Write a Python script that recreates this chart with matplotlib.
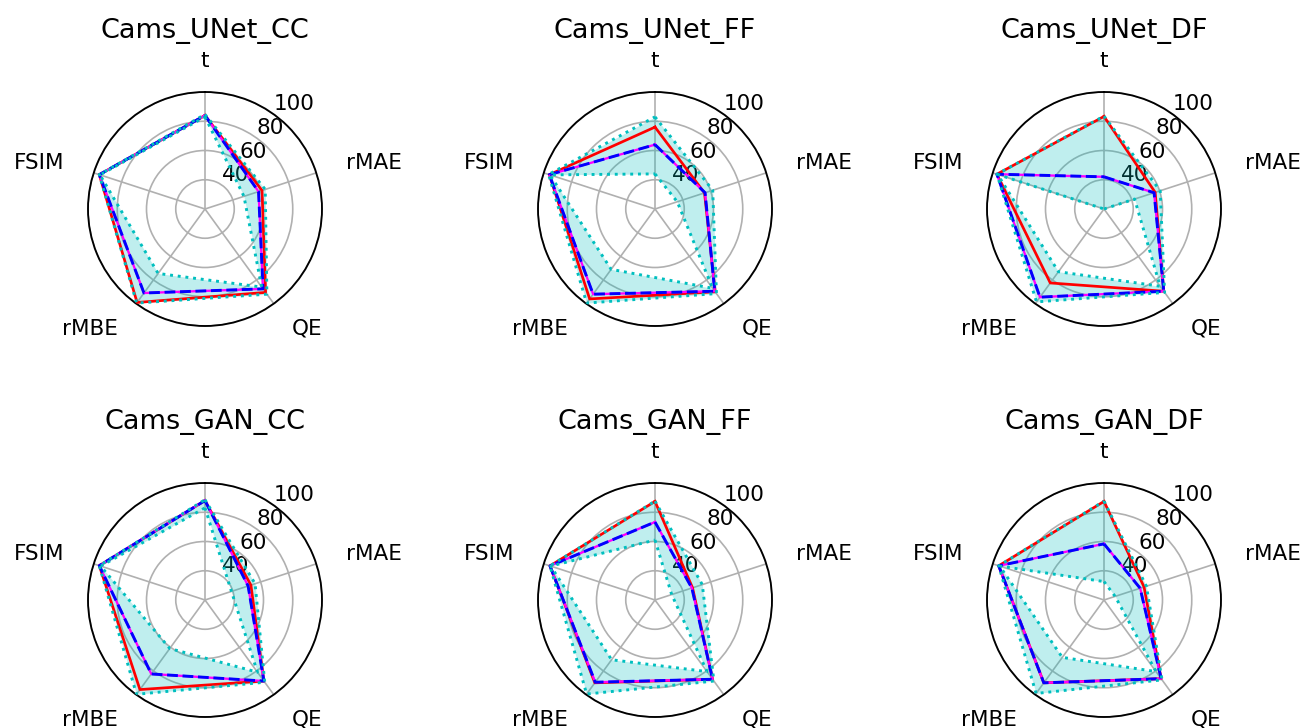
import numpy as np
import matplotlib
matplotlib.use("Agg")
import matplotlib.pyplot as plt

metrics = ["t", "rMAE", "QE", "rMBE", "FSIM"]
titles = ["Cams_UNet_CC", "Cams_UNet_FF", "Cams_UNet_DF",
          "Cams_GAN_CC", "Cams_GAN_FF", "Cams_GAN_DF"]

red_vals = [
    [84.0, 61.0, 90.5, 99.0, 96.0],
    [76.0, 55.6, 90.0, 96.0, 96.0],
    [83.3, 56.8, 89.5, 82.5, 97.0],
    [88.0, 53.0, 88.5, 95.7, 96.0],
    [87.4, 47.0, 87.0, 90.0, 95.5],
    [87.4, 48.8, 86.5, 90.0, 95.7],
]
blue_vals = [
    [84.0, 58.5, 87.5, 91.0, 96.0],
    [64.0, 56.0, 89.5, 92.0, 96.0],
    [42.0, 56.0, 89.5, 94.5, 97.0],
    [88.0, 51.0, 88.5, 82.5, 96.0],
    [73.3, 46.5, 87.0, 89.5, 95.5],
    [58.4, 46.0, 86.5, 90.0, 95.7],
]
max_vals = [
    [84.7, 63.3, 92.0, 99.5, 96.0],
    [83.0, 61.5, 91.5, 99.5, 96.5],
    [83.5, 60.4, 90.5, 98.5, 97.0],
    [88.6, 56.0, 89.5, 99.7, 96.0],
    [87.6, 54.0, 88.5, 99.5, 95.5],
    [87.6, 50.5, 87.5, 99.0, 95.7],
]
min_vals = [
    [83.0, 48.0, 86.0, 74.5, 95.5],
    [44.0, 36.0, 87.0, 71.0, 95.5],
    [20.0, 42.0, 85.3, 73.0, 96.5],
    [83.0, 39.0, 81.0, 61.0, 95.0],
    [61.0, 32.0, 80.5, 70.5, 95.0],
    [32.6, 28.0, 80.5, 68.5, 95.0],
]
r_ticks = [40, 60, 80, 100]

DPI = 150
fig = plt.figure(figsize=(1304 / DPI, 728 / DPI), dpi=DPI)

n = len(metrics)
angles = np.linspace(0, 2 * np.pi, n, endpoint=False)
ang_c = np.concatenate([angles, angles[:1]])

def closed(v):
    v = list(v)
    return np.array(v + v[:1])

W = 234 / 1304
H = 234 / 728
lefts = [88 / 1304, 538 / 1304, 987 / 1304]
bottoms = [402 / 728, 11 / 728]

for i, title in enumerate(titles):
    row, col = divmod(i, 3)
    ax = fig.add_axes([lefts[col], bottoms[row], W, H], projection="polar")
    ax.set_theta_offset(np.pi / 2)
    ax.set_theta_direction(-1)
    ax.set_ylim(20, 100)
    ax.set_yticks(r_ticks)
    ax.set_yticklabels([str(t) for t in r_ticks])
    ax.set_rlabel_position(36)
    ax.set_xticks(angles)
    ax.set_xticklabels(metrics)
    ax.tick_params(axis="x", pad=4.5, labelsize=10.3)
    ax.tick_params(axis="y", labelsize=10.3)
    for lab, a in zip(ax.get_xticklabels(), angles):
        deg = np.degrees(a) % 360
        if deg == 0 or deg == 180:
            lab.set_horizontalalignment("center")
        elif deg < 180:
            lab.set_horizontalalignment("left")
        else:
            lab.set_horizontalalignment("right")
    ax.grid(True, color="#b0b0b0", linewidth=0.8)
    ax.spines["polar"].set_linewidth(0.9)

    lo = closed(min_vals[i])
    hi = closed(max_vals[i])
    ax.fill_between(ang_c, lo, hi, color="c", alpha=0.25, linewidth=0, zorder=2)
    ax.plot(ang_c, closed(red_vals[i]), color="red", linewidth=1.3, zorder=3)
    ax.plot(ang_c, closed(blue_vals[i]), color="magenta", linewidth=1.1, zorder=4)
    ax.plot(ang_c, closed(blue_vals[i]), color="blue", linestyle="--",
            linewidth=1.4, zorder=5)
    ax.plot(ang_c, hi, color="c", linestyle=":", linewidth=1.4, zorder=6)
    ax.plot(ang_c, lo, color="c", linestyle=":", linewidth=1.4, zorder=6)
    ax.set_title(title, fontsize=13)

fig.savefig("out.png", dpi=DPI)
